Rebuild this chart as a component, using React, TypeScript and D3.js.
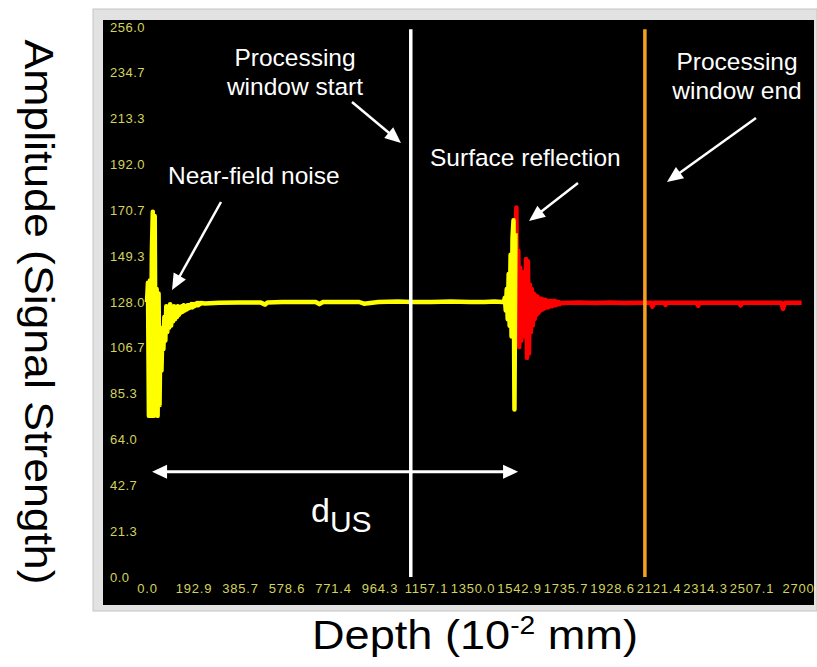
import React, { useEffect, useRef } from 'react';
import * as d3 from 'd3';

const W = 817;
const H = 667;

// tick values / labels
const yTickValues = [0, 21.3, 42.7, 64.0, 85.3, 106.7, 128.0, 149.3, 170.7, 192.0, 213.3, 234.7, 256.0];
const yTickLabels = ['0.0', '21.3', '42.7', '64.0', '85.3', '106.7', '128.0', '149.3', '170.7', '192.0', '213.3', '234.7', '256.0'];
const xTickValues = [0, 192.9, 385.7, 578.6, 771.4, 964.3, 1157.1, 1350.0, 1542.9, 1735.7, 1928.6, 2121.4, 2314.3, 2507.1, 2700];
const xTickLabels = ['0.0', '192.9', '385.7', '578.6', '771.4', '964.3', '1157.1', '1350.0', '1542.9', '1735.7', '1928.6', '2121.4', '2314.3', '2507.1', '2700'];

// signal samples (amplitude), dense parts are sampled every 4 depth units
const sampleStep = 4;
const nearFieldStart = 0;
const nearFieldAmp = [
  128, 137, 75, 138, 75, 150, 170, 75, 168, 76, 134, 75, 132, 80, 116, 96,
  115, 106, 121, 110, 126, 114, 125, 116, 127, 117, 125, 119, 126, 120, 125, 121,
  126, 122, 125.5, 123, 126, 123.5, 126.5, 124, 126, 124.5, 126.5, 125, 126.5, 125.5,
  127, 125.5, 127, 126, 127, 126.5, 127.5, 126.5, 127.5, 127, 127.5,
];
const flatDepth = [240, 300, 380, 470, 490, 500, 560, 650, 700, 715, 730, 800, 880, 900, 960, 1040, 1100, 1180, 1260, 1340, 1400, 1440, 1476];
const flatAmp = [127.3, 127.6, 127.8, 127.8, 126.8, 127.8, 128, 128, 128, 127, 128, 128, 128, 127.2, 128, 128.2, 128, 128, 128.2, 128, 128, 128.2, 128];
const surfaceYellowStart = 1480;
const surfaceYellowAmp = [128, 130, 124, 134, 120, 141, 117, 150, 112, 158, 166, 78, 160];
const surfaceRedStart = 1528;
const surfaceRedAmp = [
  160, 172, 108, 152, 107, 144, 110, 142, 112, 140, 114, 148, 102, 147, 104, 136,
  114, 134, 117, 132, 120, 131, 122, 130.5, 123, 129.5, 124, 129.5, 124.5, 129, 125, 129,
  125.5, 128.5, 125.5, 128.5, 126, 128.5, 126, 128.5, 126.5, 128.5, 126.5, 128, 127, 128, 127,
];
const tailDepth = [1720, 1790, 1860, 1920, 1980, 2040, 2090, 2096, 2104, 2145, 2150, 2156, 2220, 2280, 2286, 2292, 2360, 2420, 2456, 2462, 2468, 2540, 2600, 2630, 2638, 2646, 2680, 2715];
const tailAmp = [127.5, 127.8, 127.5, 127.8, 127.5, 127.6, 127.6, 125.8, 127.6, 127.6, 126.6, 127.6, 127.7, 127.7, 126.2, 127.7, 127.6, 127.6, 127.6, 126.4, 127.6, 127.6, 127.6, 127.6, 124.8, 127.6, 127.6, 127.6];

// window markers (depth)
const windowStart = 1094;
const windowEnd = 2065;
// d_US span (depth) and the amplitude level where the arrow sits
const dUsFrom = 21;
const dUsTo = 1539;
const dUsLevel = 49;

const tickColor = '#d4d45c';
const sans = '"Liberation Sans", Arial, sans-serif';

function denseToPairs(start: number, amps: number[]): [number, number][] {
  return amps.map((a, i) => [start + i * sampleStep, a]);
}

function arrowHead(x1: number, y1: number, x2: number, y2: number, len = 16, half = 7) {
  const a = Math.atan2(y2 - y1, x2 - x1);
  const bx = x2 - len * Math.cos(a);
  const by = y2 - len * Math.sin(a);
  const px = -Math.sin(a) * half;
  const py = Math.cos(a) * half;
  return `${x2},${y2} ${bx + px},${by + py} ${bx - px},${by - py}`;
}

function UltrasoundChart() {
  const ref = useRef<SVGGElement>(null);

  const x = d3.scaleLinear().domain([0, 2700]).range([147, 798]);
  const y = d3.scaleLinear().domain([0, 256]).range([577, 27]);

  useEffect(() => {
    const g = d3.select(ref.current);
    g.selectAll('*').remove();

    // y tick labels, left aligned inside the black panel
    const yAxis = g.append('g')
      .attr('transform', 'translate(110,0)')
      .call(d3.axisLeft(y).tickValues(yTickValues).tickFormat((_, i) => yTickLabels[i]).tickSize(0).tickPadding(0));
    yAxis.select('.domain').remove();
    yAxis.selectAll('text')
      .attr('text-anchor', 'start')
      .attr('x', 0)
      .attr('fill', tickColor)
      .style('font-family', sans)
      .style('font-size', '13px')
      .style('letter-spacing', '0.5px');

    // x tick labels
    const xAxis = g.append('g')
      .attr('transform', 'translate(0,584)')
      .call(d3.axisBottom(x).tickValues(xTickValues).tickFormat((_, i) => xTickLabels[i]).tickSize(0).tickPadding(0));
    xAxis.select('.domain').remove();
    xAxis.selectAll('text')
      .attr('fill', tickColor)
      .style('font-family', sans)
      .style('font-size', '13px')
      .style('letter-spacing', '0.8px');

    const line = d3.line<[number, number]>()
      .x(d => x(d[0]))
      .y(d => y(d[1]));

    const yellow: [number, number][] = [
      ...denseToPairs(nearFieldStart, nearFieldAmp),
      ...flatDepth.map((d, i) => [d, flatAmp[i]] as [number, number]),
      ...denseToPairs(surfaceYellowStart, surfaceYellowAmp),
    ];
    const red: [number, number][] = [
      ...denseToPairs(surfaceRedStart, surfaceRedAmp),
      ...tailDepth.map((d, i) => [d, tailAmp[i]] as [number, number]),
    ];

    g.append('path')
      .datum(red)
      .attr('fill', 'none')
      .attr('stroke', '#ff0000')
      .attr('stroke-width', 4.5)
      .attr('stroke-linejoin', 'round')
      .attr('d', line);

    g.append('path')
      .datum(yellow)
      .attr('fill', 'none')
      .attr('stroke', '#ffff00')
      .attr('stroke-width', 4.5)
      .attr('stroke-linejoin', 'round')
      .attr('d', line);

    // processing window lines
    g.append('line')
      .attr('x1', x(windowStart)).attr('x2', x(windowStart))
      .attr('y1', y(255)).attr('y2', y(0))
      .attr('stroke', '#ffffff').attr('stroke-width', 3.5);
    g.append('line')
      .attr('x1', x(windowEnd)).attr('x2', x(windowEnd))
      .attr('y1', y(255)).attr('y2', y(0))
      .attr('stroke', '#f5a11c').attr('stroke-width', 3.5);

    // d_US double arrow
    const ax1 = x(dUsFrom), ax2 = x(dUsTo), ay = y(dUsLevel);
    g.append('line')
      .attr('x1', ax1 + 10).attr('x2', ax2 - 10)
      .attr('y1', ay).attr('y2', ay)
      .attr('stroke', '#ffffff').attr('stroke-width', 3);
    g.append('polygon').attr('points', arrowHead(ax2, ay, ax1, ay, 15, 7)).attr('fill', '#ffffff');
    g.append('polygon').attr('points', arrowHead(ax1, ay, ax2, ay, 15, 7)).attr('fill', '#ffffff');
  }, []);

  const pointers = [
    [352, 102, 401, 143],
    [221, 202, 172, 290],
    [578, 183, 529, 221],
    [756, 118, 667, 182],
  ];

  return (
    <svg width={W} height={H} style={{ position: 'absolute', left: 0, top: 0, background: '#fff' }}>
      <rect x={93} y={9} width={724} height={602} fill="#e2e2e2" stroke="#c4c4c4" />
      <rect x={103} y={20} width={711} height={585} fill="#000" />
      <g ref={ref} />
      {pointers.map(([x1, y1, x2, y2], i) => {
        const a = Math.atan2(y2 - y1, x2 - x1);
        return (
          <g key={i}>
            <line x1={x1} y1={y1} x2={x2 - 12 * Math.cos(a)} y2={y2 - 12 * Math.sin(a)} stroke="#fff" strokeWidth={2.5} />
            <polygon points={arrowHead(x1, y1, x2, y2, 16, 7)} fill="#fff" />
          </g>
        );
      })}
      <g fill="#fff" fontFamily={sans} fontSize={24.5}>
        <text x={295} y={66} textAnchor="middle">Processing</text>
        <text x={295} y={95} textAnchor="middle">window start</text>
        <text x={168} y={184}>Near-field noise</text>
        <text x={430} y={166}>Surface reflection</text>
        <text x={737} y={70} textAnchor="middle">Processing</text>
        <text x={737} y={99} textAnchor="middle">window end</text>
        <text x={311} y={522} fontSize={34}>d<tspan fontSize={30} dy={10}>US</tspan></text>
      </g>
      <g fill="#000" fontFamily={sans} fontSize={40}>
        <text transform="translate(25,312) rotate(90)" textAnchor="middle" textLength={545} lengthAdjust="spacingAndGlyphs">Amplitude (Signal Strength)</text>
        <text x={475} y={649} textAnchor="middle" textLength={326} lengthAdjust="spacingAndGlyphs">
          Depth (10<tspan fontSize={25} dy={-15}>-2</tspan><tspan dy={15}> mm)</tspan>
        </text>
      </g>
    </svg>
  );
}

export default function App() {
  return <UltrasoundChart />;
}
